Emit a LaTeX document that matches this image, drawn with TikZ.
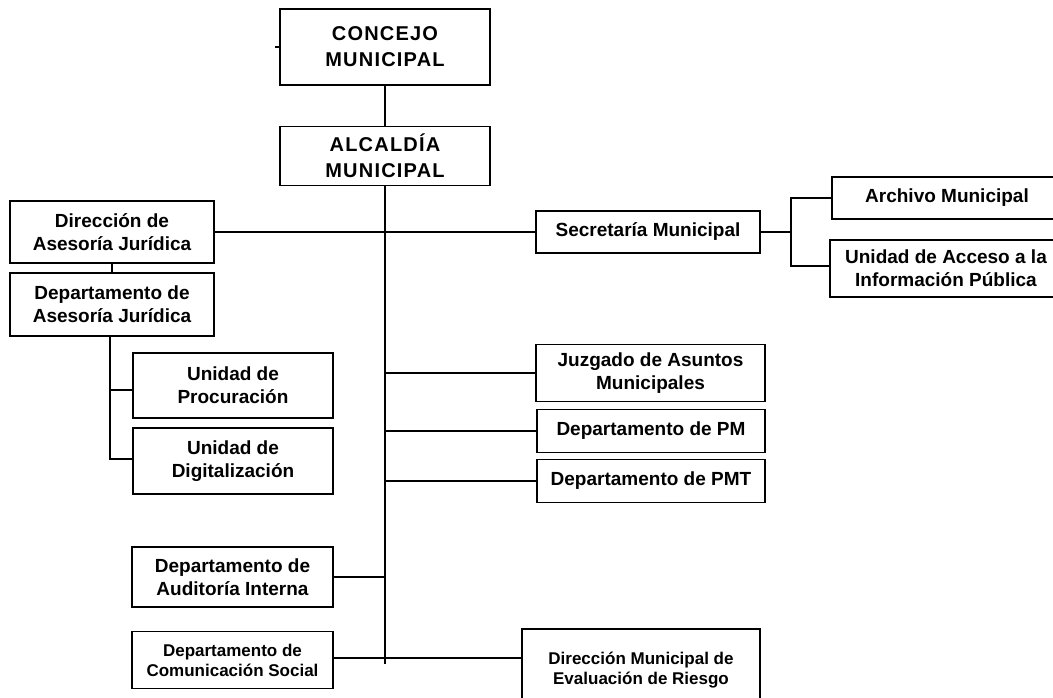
\documentclass[tikz,border=0pt]{standalone}
\usepackage{fontspec}
\setmainfont{Liberation Sans}
\newfontfamily\capsfont[LetterSpace=6]{Liberation Sans}
\begin{document}
\begin{tikzpicture}[x=1pt,y=-1pt,
  box/.style={draw, line width=1.6pt, inner sep=0pt, align=center,
    font=\bfseries\fontsize{19}{23}\selectfont},
  smallbox/.style={box, font=\bfseries\fontsize{17}{20}\selectfont},
  bigbox/.style={box, font=\capsfont\bfseries\fontsize{20}{26}\selectfont},
  link/.style={line width=1.5pt}]
\fill[white] (0,0) rectangle (1053,698);
\useasboundingbox (0,0) rectangle (1053,698);

\node[bigbox, minimum width=210, minimum height=76] (concejo) at (385,47) {CONCEJO\\MUNICIPAL};
\node[bigbox, minimum width=210, minimum height=59] (alcaldia) at (385,156) {ALCALDÍA\\MUNICIPAL};

\node[box, minimum width=204, minimum height=62] (dirAJ) at (112,232) {Dirección de\\Asesoría Jurídica};
\node[box, minimum width=204, minimum height=63] (depAJ) at (112,304.5) {Departamento de\\Asesoría Jurídica};
\node[box, minimum width=200, minimum height=65] (procur) at (233,385.5) {Unidad de\\Procuración};
\node[box, minimum width=200, minimum height=66] (digit) at (233,461) {Unidad de\\Digitalización};

\node[box, minimum width=224, minimum height=42] (secret) at (648,232) {Secretaría Municipal};
\node[box, minimum width=230, minimum height=42] (archivo) at (947,198) {Archivo Municipal};
\node[box, minimum width=232, minimum height=57] (acceso) at (946,268.5) {Unidad de Acceso a la\\Información Pública};

\node[box, minimum width=229, minimum height=57] (juzgado) at (650.5,373) {Juzgado de Asuntos\\Municipales};
\node[box, minimum width=228, minimum height=43] (pm) at (651,431) {Departamento de PM};
\node[box, minimum width=228, minimum height=43] (pmt) at (651,481) {Departamento de PMT};

\node[box, minimum width=201, minimum height=60] (audit) at (232.5,577) {Departamento de\\Auditoría Interna};
\node[smallbox, minimum width=201, minimum height=57] (comun) at (232.5,660) {Departamento de\\Comunicación Social};
\node[smallbox, minimum width=238, minimum height=83] (dmer) at (641,670.5) {Dirección Municipal de\\Evaluación de Riesgo};

% connectors
\coordinate (mainend) at (385,664);
\draw[link] (concejo.west) -- ++(-4,0);
\draw[link] (concejo.south) -- (alcaldia.north);
\draw[link] (alcaldia.south) -- (mainend);
\draw[link] (dirAJ.east) -- (secret.west);
\draw[link] (dirAJ.south) -- (depAJ.north);

\coordinate (ajv) at (110,459);
\coordinate (ajb) at (110,390);
\draw[link] (depAJ.south -| ajv) -- (ajv) -- (digit.west |- ajv);
\draw[link] (ajb) -- (procur.west |- ajb);

\coordinate (sv) at (791,0);
\coordinate (acb) at (791,266);
\draw[link] (secret.east) -- (secret.east -| sv);
\draw[link] (archivo.west) -| (acb) -- (acceso.west |- acb);

\draw[link] (juzgado.west) -- (juzgado.west -| mainend);
\draw[link] (pm.west) -- (pm.west -| mainend);
\draw[link] (pmt.west) -- (pmt.west -| mainend);
\draw[link] (audit.east) -- (audit.east -| mainend);
\coordinate (cl) at (0,658);
\draw[link] (comun.east |- cl) -- (dmer.west |- cl);
\end{tikzpicture}
\end{document}
